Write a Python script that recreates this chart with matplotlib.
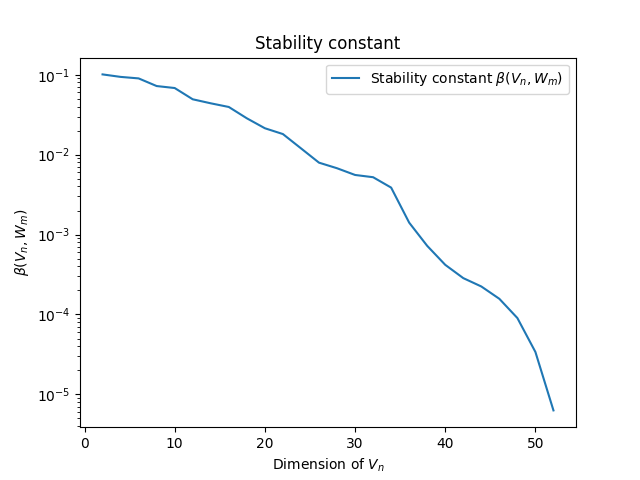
import matplotlib
matplotlib.use("Agg")
import matplotlib.pyplot as plt

dims = [2, 4, 6, 8, 10, 12, 14, 16, 18, 20, 22, 24, 26, 28, 30, 32, 34, 36, 38, 40, 42, 44, 46, 48, 50, 52]
beta = [0.101, 0.094, 0.090, 0.0722, 0.0682, 0.0493, 0.0439, 0.0395, 0.0285, 0.0214,
        0.0181, 0.0120, 0.00794, 0.00676, 0.00557, 0.00522, 0.00387, 0.00141, 0.000722,
        0.000418, 0.000285, 0.000224, 0.000157, 0.0000902, 0.0000339, 0.0000063]

fig, ax = plt.subplots(figsize=(6.4, 4.8), dpi=100)
ax.semilogy(dims, beta, label=r"Stability constant $\beta(V_n, W_m)$")
ax.set_title("Stability constant")
ax.set_xlabel(r"Dimension of $V_n$")
ax.set_ylabel(r"$\beta(V_n, W_m)$")
ax.legend(loc="upper right")
fig.savefig("out.png")
